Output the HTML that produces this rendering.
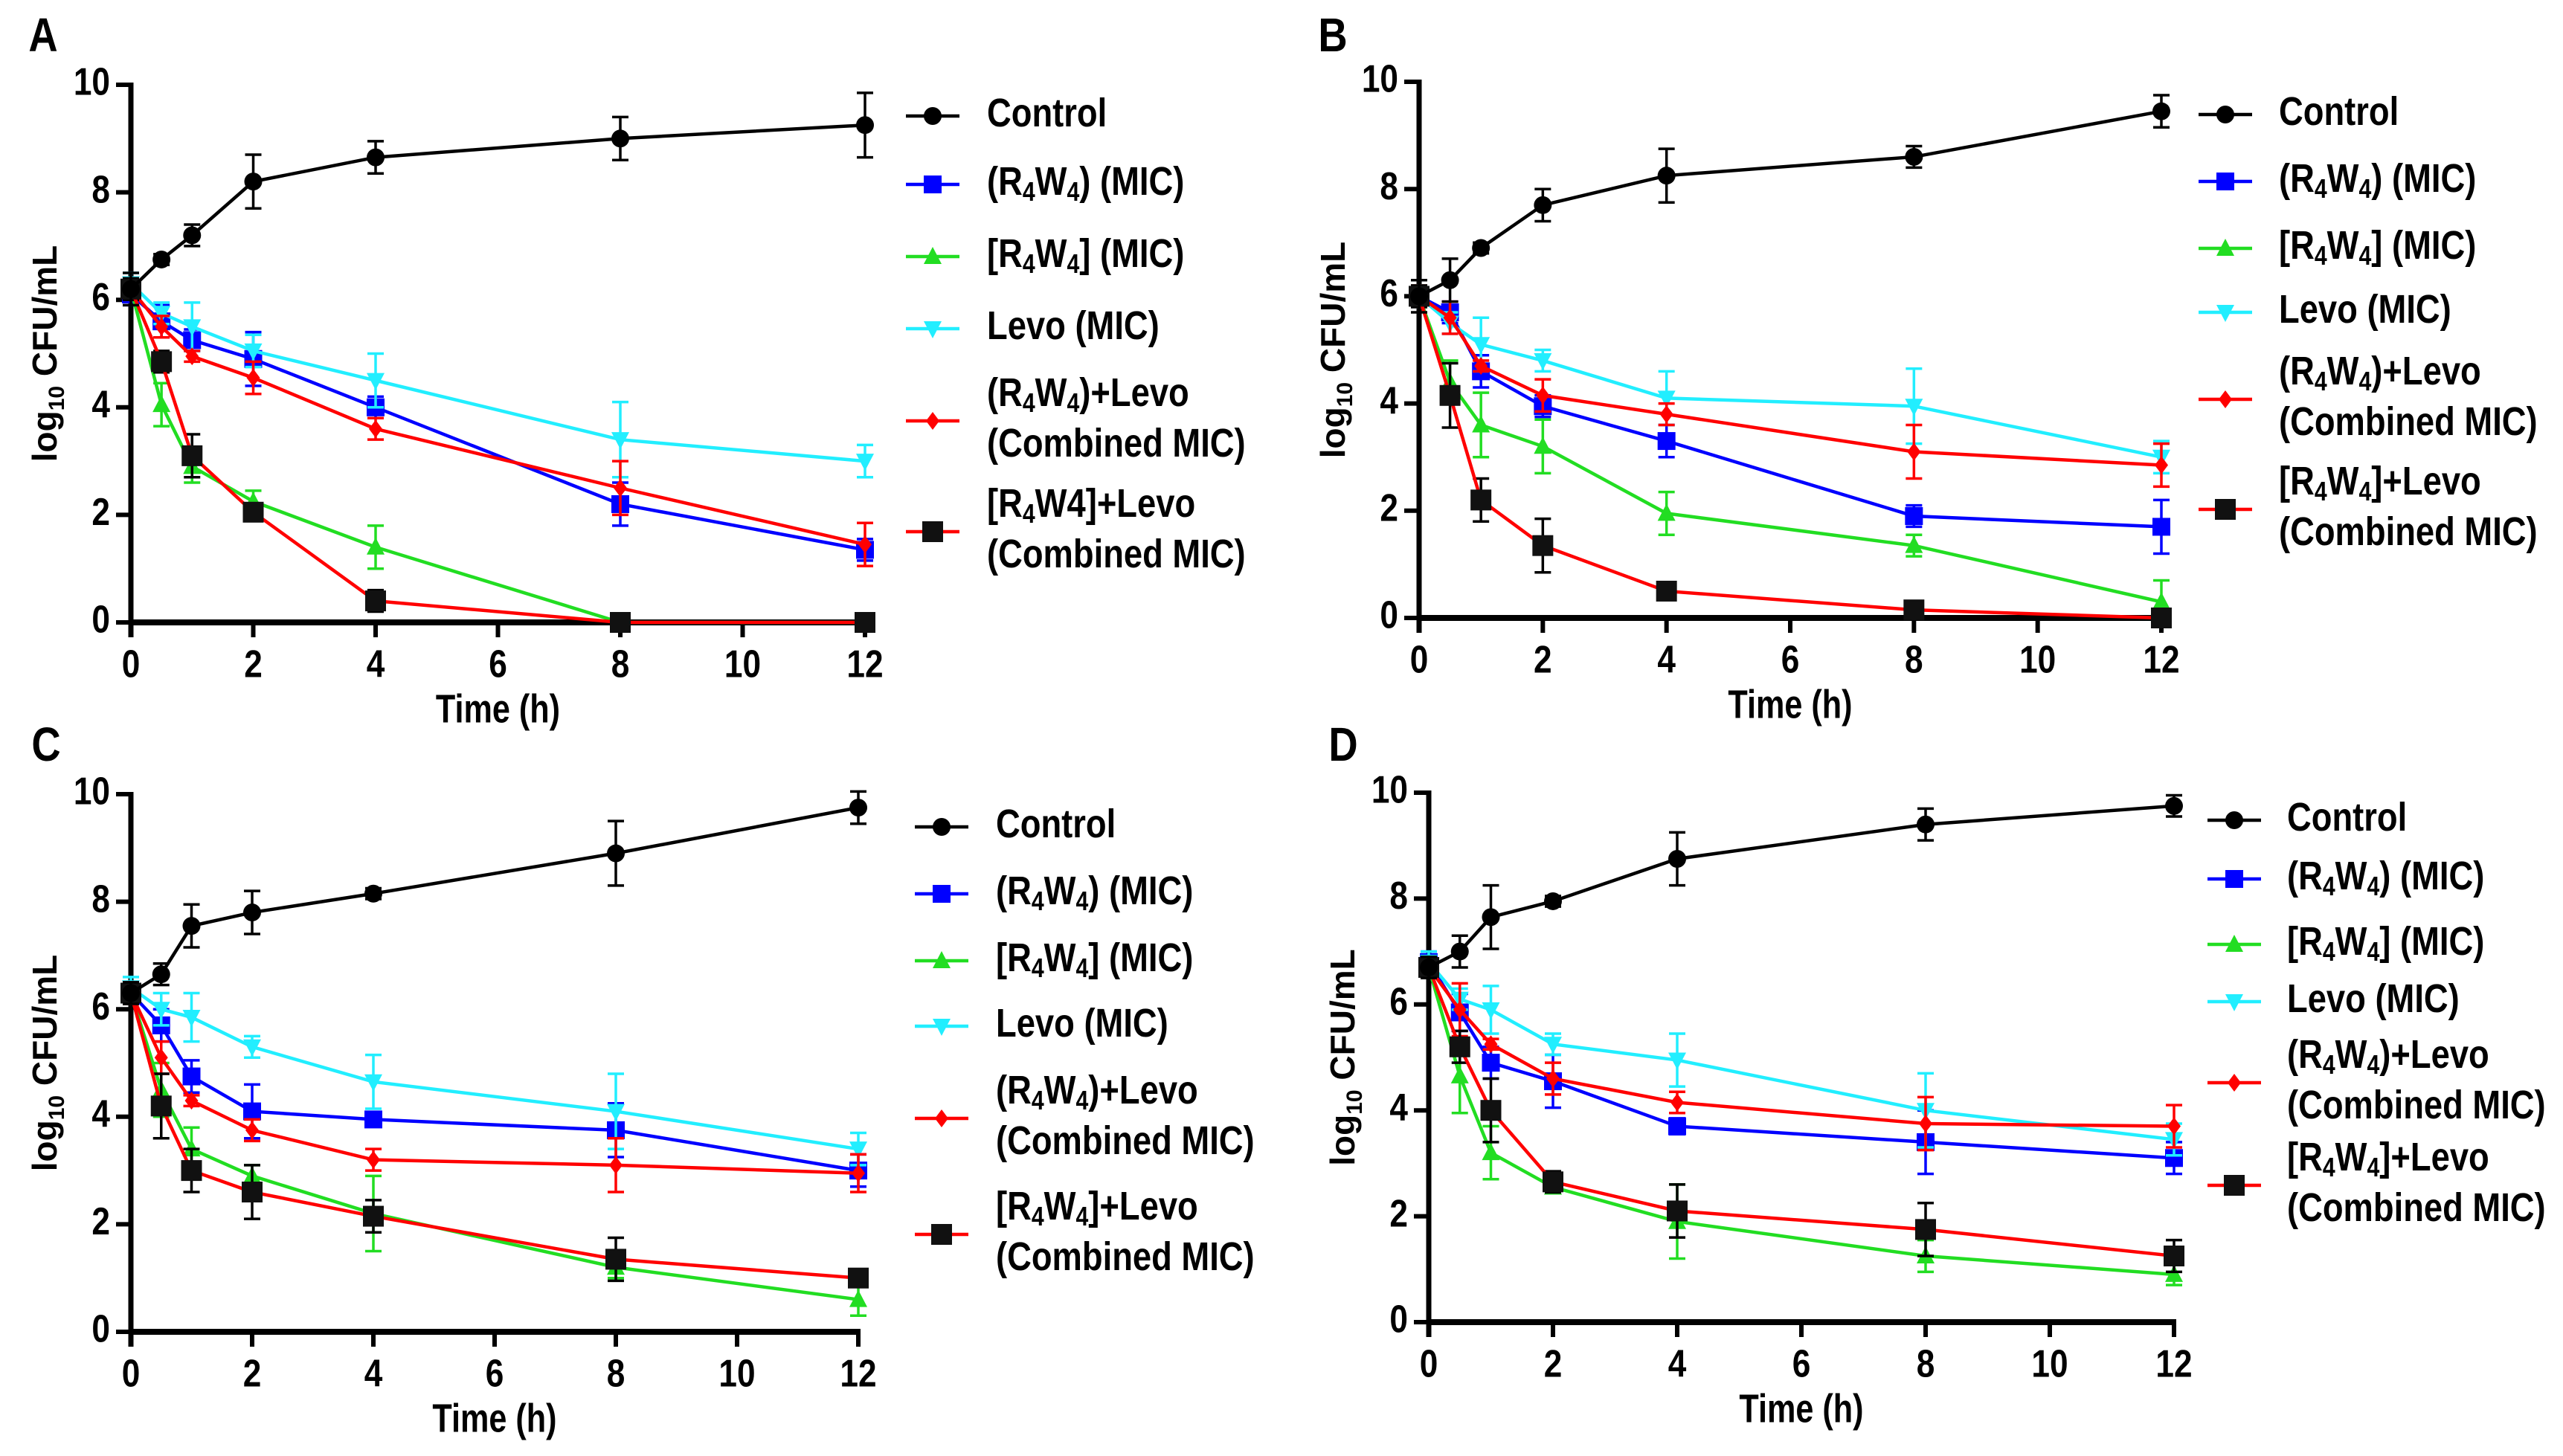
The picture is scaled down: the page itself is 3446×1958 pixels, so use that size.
<!DOCTYPE html>
<html><head><meta charset="utf-8"><style>
html,body{margin:0;padding:0;background:#fff;}
svg{display:block;}
text{font-family:"Liberation Sans Narrow","Liberation Sans",sans-serif;font-weight:bold;fill:#000;}
</style></head><body>
<svg id="fig" width="3446" height="1958" viewBox="0 0 3446 1958" xmlns="http://www.w3.org/2000/svg"></svg>
<script>
const times = [0, 0.5, 1, 2, 4, 8, 12];
const xTicks = [0, 2, 4, 6, 8, 10, 12];
const yTicks = [0, 2, 4, 6, 8, 10];
const seriesNames = ["control","r4w4-linear","r4w4-cyclic","levo","r4w4-levo","cyclic-levo"];
// Panel A
const aControl = [6.2, 6.75, 7.2, 8.2, 8.65, 9.0, 9.25];
const aBlue    = [6.1, 5.6, 5.25, 4.9, 4.0, 2.2, 1.35];
const aGreen   = [6.2, 4.05, 2.9, 2.25, 1.4, 0, 0];
const aCyan    = [6.3, 5.75, 5.5, 5.05, 4.5, 3.4, 3.0];
const aRed     = [6.2, 5.5, 4.95, 4.55, 3.6, 2.5, 1.45];
const aBlack   = [6.2, 4.85, 3.1, 2.05, 0.4, 0, 0];
// Panel B
const bControl = [6.0, 6.3, 6.9, 7.7, 8.25, 8.6, 9.45];
const bBlue    = [6.0, 5.7, 4.6, 3.95, 3.3, 1.9, 1.7];
const bGreen   = [6.0, 4.4, 3.6, 3.2, 1.95, 1.35, 0.3];
const bCyan    = [6.0, 5.5, 5.1, 4.8, 4.1, 3.95, 3.0];
const bRed     = [6.0, 5.6, 4.7, 4.15, 3.8, 3.1, 2.85];
const bBlack   = [6.0, 4.15, 2.2, 1.35, 0.5, 0.15, 0];
// Panel C
const cControl = [6.3, 6.65, 7.55, 7.8, 8.15, 8.9, 9.75];
const cBlue    = [6.3, 5.7, 4.75, 4.1, 3.95, 3.75, 3.0];
const cGreen   = [6.3, 4.5, 3.4, 2.9, 2.2, 1.2, 0.6];
const cCyan    = [6.4, 6.0, 5.85, 5.3, 4.65, 4.1, 3.4];
const cRed     = [6.3, 5.1, 4.3, 3.75, 3.2, 3.1, 2.95];
const cBlack   = [6.3, 4.2, 3.0, 2.6, 2.15, 1.35, 1.0];
// Panel D
const dControl = [6.7, 7.0, 7.65, 7.95, 8.75, 9.4, 9.75];
const dBlue    = [6.8, 5.85, 4.9, 4.55, 3.7, 3.4, 3.1];
const dGreen   = [6.7, 4.65, 3.2, 2.55, 1.9, 1.25, 0.9];
const dCyan    = [6.8, 6.1, 5.9, 5.25, 4.95, 4.0, 3.45];
const dRed     = [6.7, 5.9, 5.25, 4.6, 4.15, 3.75, 3.7];
const dBlack   = [6.7, 5.2, 4.0, 2.65, 2.1, 1.75, 1.25];
// error bar half-widths
const aErr = [[0.3,0.1,0.2,0.5,0.3,0.4,0.6],[0.2,0.3,0.2,0.5,0.2,0.4,0.2],[0.2,0.4,0.3,0.2,0.4,0,0],[0.2,0.2,0.45,0.3,0.5,0.7,0.3],[0.2,0.2,0.1,0.3,0.2,0.5,0.4],[0.2,0.2,0.4,0.1,0.2,0,0]];
const bErr = [[0.3,0.4,0.1,0.3,0.5,0.2,0.3],[0.2,0.2,0.3,0.2,0.3,0.2,0.5],[0.2,0.4,0.6,0.5,0.4,0.2,0.4],[0.2,0.2,0.5,0.2,0.5,0.7,0.3],[0.2,0.3,0.1,0.3,0.2,0.5,0.4],[0.2,0.6,0.4,0.5,0.1,0.1,0.1]];
const cErr = [[0.2,0.2,0.4,0.4,0.1,0.6,0.3],[0.2,0.3,0.3,0.5,0.1,0.5,0.3],[0.2,0.5,0.4,0.2,0.7,0.2,0.3],[0.2,0.3,0.45,0.2,0.5,0.7,0.3],[0.2,0.3,0.1,0.2,0.2,0.5,0.35],[0.2,0.6,0.4,0.5,0.3,0.4,0.1]];
const dErr = [[0.2,0.3,0.6,0.1,0.5,0.3,0.2],[0.2,0.35,0.3,0.5,0.15,0.6,0.3],[0.2,0.7,0.5,0.1,0.7,0.3,0.2],[0.2,0.2,0.45,0.2,0.5,0.7,0.3],[0.2,0.5,0.1,0.3,0.2,0.5,0.4],[0.2,0.3,0.6,0.2,0.5,0.5,0.3]];

const NS = "http://www.w3.org/2000/svg";
const svg = document.getElementById("fig");
function mk(tag, attrs, parent){const e=document.createElementNS(NS,tag);for(const k in attrs)e.setAttribute(k,attrs[k]);(parent||svg).appendChild(e);return e;}
function ctext(parent, x, y, size, anchor, sx){
  return mk("text",{x:0,y:0,"font-size":size,"text-anchor":anchor,"dominant-baseline":"middle",transform:`translate(${x},${y}) scale(${sx},1)`},parent);
}

const colors = {control:"#000", "r4w4-linear":"#0000ff", "r4w4-cyclic":"#22dd22", levo:"#22eeff", "r4w4-levo":"#ff0000", "cyclic-levo":"#ff0000"};
const markers = {control:"circle","r4w4-linear":"square","r4w4-cyclic":"tri","levo":"tridown","r4w4-levo":"diamond","cyclic-levo":"bigsquare"};

function drawMarker(g, type, cx, cy, col){
  let m;
  if(type==="circle") m=mk("circle",{cx,cy,r:12,fill:"#000"},g);
  else if(type==="square") m=mk("rect",{x:cx-12,y:cy-12,width:24,height:24,fill:col},g);
  else if(type==="bigsquare") m=mk("rect",{x:cx-14,y:cy-14,width:28,height:28,fill:"#111"},g);
  else if(type==="tri") m=mk("polygon",{points:`${cx},${cy-13} ${cx-12},${cy+10} ${cx+12},${cy+10}`,fill:col},g);
  else if(type==="tridown") m=mk("polygon",{points:`${cx},${cy+13} ${cx-12},${cy-10} ${cx+12},${cy-10}`,fill:col},g);
  else m=mk("polygon",{points:`${cx},${cy-12} ${cx-9},${cy} ${cx},${cy+12} ${cx+9},${cy}`,fill:col},g);
  return m;
}

function legendText(g, x, y, lines){
  lines.forEach((ln,i)=>{
    const t=ctext(g,x,y+i*68,54,"start",0.84);
    ln.forEach(p=>{const ts=mk("tspan",p.sub?{"font-size":36,dy:12}:{dy:p.after?-12:0},t);ts.textContent=p.s;});
  });
}
const R = (s,sub,after)=>({s,sub,after});
const legendLabels = [
  [[R("Control")]],
  [[R("(R"),R("4",1),R("W",0,1),R("4",1),R(") (MIC)",0,1)]],
  [[R("[R"),R("4",1),R("W",0,1),R("4",1),R("] (MIC)",0,1)]],
  [[R("Levo (MIC)")]],
  [[R("(R"),R("4",1),R("W",0,1),R("4",1),R(")+Levo",0,1)],[R("(Combined MIC)")]],
  null
];

function panel(cfg){
  const g=mk("g",{});
  
  
  const X=v=>cfg.x0+(cfg.x12-cfg.x0)*v/12;
  const Y=v=>cfg.y0+(cfg.y10-cfg.y0)*v/10;
  const lt=ctext(g,cfg.lx+20,cfg.ly-20,64,"middle",0.85);
  lt.textContent=cfg.letter;
  
  
  const ya=mk("line",{x1:cfg.x0,y1:cfg.y10-3,x2:cfg.x0,y2:cfg.y0+20,stroke:"#000","stroke-width":7},g);
  
  
  const xa=mk("line",{x1:cfg.x0-3,y1:cfg.y0,x2:cfg.x12+3,y2:cfg.y0,stroke:"#000","stroke-width":8},g);
  
  
  yTicks.forEach(v=>{
    mk("line",{x1:cfg.x0-20,y1:Y(v),x2:cfg.x0,y2:Y(v),stroke:"#000","stroke-width":6},g);
    const t=ctext(g,cfg.x0-28,Y(v),52,"end",0.85);
    t.textContent=v;
    
    
  });
  xTicks.forEach(v=>{
    mk("line",{x1:X(v),y1:cfg.y0,x2:X(v),y2:cfg.y0+20,stroke:"#000","stroke-width":6},g);
    const t=ctext(g,X(v),cfg.y0+60,52,"middle",0.85);
    t.textContent=v;
    
    
  });
  const xt=ctext(g,(cfg.x0+cfg.x12)/2,cfg.y0+120,54,"middle",0.8);
  xt.textContent="Time (h)";
  
  
  const yc=(cfg.y0+cfg.y10)/2;
  const yt=mk("text",{x:cfg.x0-100,y:yc,"font-size":46,"font-family":"Liberation Sans","text-anchor":"middle",transform:`rotate(-90 ${cfg.x0-100} ${yc})`},g);
  
  
  const a=mk("tspan",{},yt);a.textContent="log";
  const b=mk("tspan",{"font-size":30,dy:10},yt);b.textContent="10";
  const c=mk("tspan",{dy:-10},yt);c.textContent=" CFU/mL";
  const order=[1,2,3,4,5,0];
  order.forEach(i=>{
    const name=seriesNames[i], vals=cfg.data[i], err=cfg.err[i], col=colors[name];
    const sg=mk("g",{},g);
    
    
    vals.forEach((v,j)=>{
      const e=err[j]; if(e<=0) return;
      const ec = name==="cyclic-levo" ? "#000" : col;
      mk("line",{x1:X(times[j]),y1:Y(v-e),x2:X(times[j]),y2:Y(v+e),stroke:ec,"stroke-width":3.5},sg);
      mk("line",{x1:X(times[j])-11,y1:Y(v+e),x2:X(times[j])+11,y2:Y(v+e),stroke:ec,"stroke-width":3.5},sg);
      mk("line",{x1:X(times[j])-11,y1:Y(v-e),x2:X(times[j])+11,y2:Y(v-e),stroke:ec,"stroke-width":3.5},sg);
    });
    const pts=vals.map((v,j)=>X(times[j])+","+Y(v)).join(" ");
    mk("polyline",{points:pts,fill:"none",stroke:col,"stroke-width":4.5},sg);
    vals.forEach((v,j)=>{
      const m=drawMarker(sg,markers[name],X(times[j]),Y(v),col);
      
      
    });
  });
  const lg=mk("g",{},g);
  
  
  cfg.leg.rows.forEach((ry,i)=>{
    const name=seriesNames[i], col=colors[name];
    const eg=mk("g",{},lg);
    
    
    mk("line",{x1:cfg.leg.lx,y1:ry,x2:cfg.leg.lx+72,y2:ry,stroke:col,"stroke-width":4.5},eg);
    drawMarker(eg,markers[name],cfg.leg.lx+36,ry,col);
    let lines=legendLabels[i];
    if(!lines){
      lines = cfg.letter==="A" ? [[R("[R"),R("4",1),R("W4]+Levo",0,1)],[R("(Combined MIC)")]]
                               : [[R("[R"),R("4",1),R("W",0,1),R("4",1),R("]+Levo",0,1)],[R("(Combined MIC)")]];
    }
    const ty = lines.length>1 ? ry-34 : ry;
    legendText(eg,cfg.leg.tx,ty,lines);
  });
}

panel({letter:"A",lx:38,ly:72,x0:176,x12:1163,y0:837,y10:114,
  data:[aControl,aBlue,aGreen,aCyan,aRed,aBlack],err:aErr,
  leg:{lx:1218,tx:1327,rows:[156,248,345,442,566,715]}});
panel({letter:"B",lx:1772,ly:72,x0:1908,x12:2906,y0:831,y10:110,
  data:[bControl,bBlue,bGreen,bCyan,bRed,bBlack],err:bErr,
  leg:{lx:2956,tx:3064,rows:[154,244,334,420,537,685]}});
panel({letter:"C",lx:42,ly:1026,x0:176,x12:1154,y0:1791,y10:1068,
  data:[cControl,cBlue,cGreen,cCyan,cRed,cBlack],err:cErr,
  leg:{lx:1230,tx:1339,rows:[1112,1202,1292,1380,1504,1660]}});
panel({letter:"D",lx:1786,ly:1026,x0:1921,x12:2923,y0:1778,y10:1066,
  data:[dControl,dBlue,dGreen,dCyan,dRed,dBlack],err:dErr,
  leg:{lx:2968,tx:3075,rows:[1103,1182,1270,1347,1456,1594]}});
</script>
</body></html>
